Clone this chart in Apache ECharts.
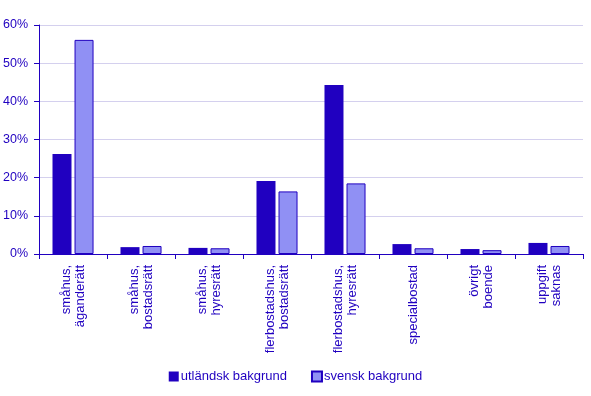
<!DOCTYPE html>
<html><head><meta charset="utf-8">
<script src="https://cdn.jsdelivr.net/npm/echarts@6/dist/echarts.min.js"></script>
<style>html,body{margin:0;padding:0;background:#fff}#c{width:591px;height:396px}</style>
</head><body><div id="c"></div>
<script>
const categories = ["småhus,\näganderätt","småhus,\nbostadsrätt","småhus,\nhyresrätt","flerbostadshus,\nbostadsrätt","flerbostadshus,\nhyresrätt","specialbostad","övrigt\nboende","uppgift\nsaknas"];
const utlandsk = [26.2, 1.8, 1.6, 19.1, 44.3, 2.6, 1.3, 2.9];
const svensk = [56.1, 2.1, 1.5, 16.4, 18.5, 1.5, 1.0, 2.1];
const seriesNames = ["utländsk bakgrund","svensk bakgrund"];
const blue = '#2000c0';
const chart = echarts.init(document.getElementById('c'));
chart.setOption({
  animation:false,
  textStyle:{fontFamily:'Liberation Sans, Arial, sans-serif'},
  grid:{left:39,right:8,top:25,bottom:142},
  legend:{top:365,left:'center',itemWidth:10,itemHeight:10,itemGap:24,icon:'rect',
    textStyle:{color:blue,fontSize:13,padding:[0,0,0,-3]},
    data:seriesNames},
  xAxis:{type:'category',data:categories,
    axisLine:{lineStyle:{color:blue}},
    axisTick:{show:true,lineStyle:{color:blue},length:5},
    axisLabel:{rotate:90,color:blue,fontSize:13,interval:0,margin:11,lineHeight:14,padding:[5,0,0,0]}},
  yAxis:{type:'value',min:0,max:60,interval:10,
    axisLine:{show:true,lineStyle:{color:blue}},
    axisTick:{show:true,lineStyle:{color:blue},length:5},
    splitLine:{lineStyle:{color:'#d4d0ee'}},
    axisLabel:{color:blue,fontSize:12.5,formatter:'{value}%',margin:11}},
  series:[
    {name:seriesNames[0],type:'bar',data:utlandsk,barWidth:19,barGap:'16%',
     itemStyle:{color:blue}},
    {name:seriesNames[1],type:'bar',data:svensk,barWidth:19,
     itemStyle:{color:'#9090f4',borderColor:blue,borderWidth:1}}
  ]
});
</script></body></html>
